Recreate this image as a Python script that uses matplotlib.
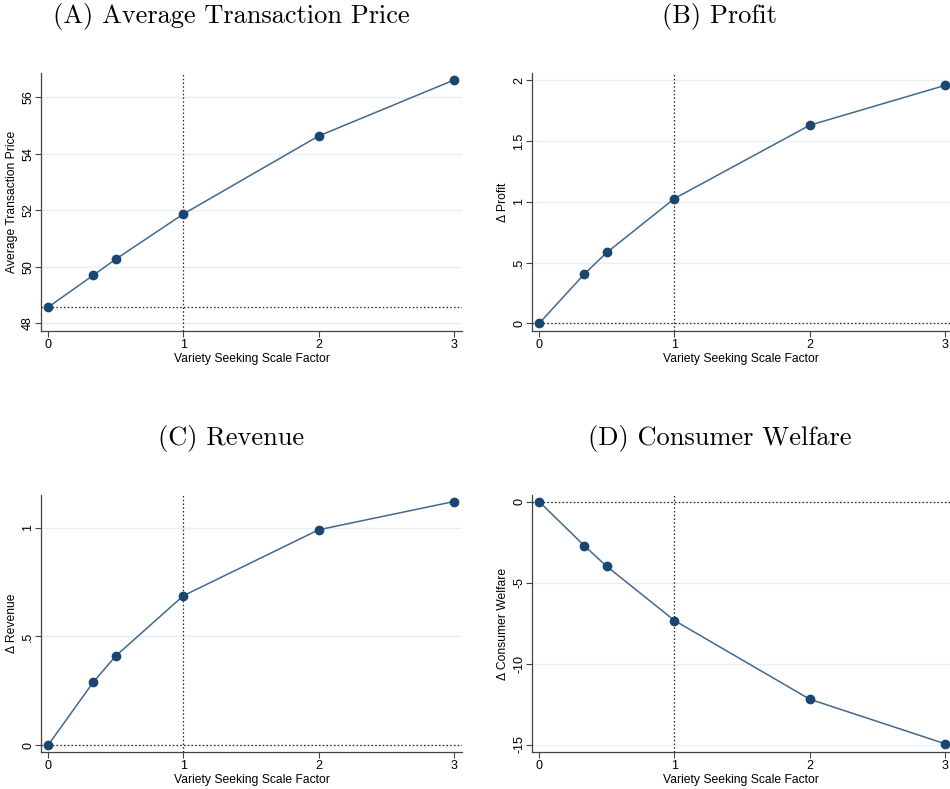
import matplotlib
matplotlib.use("Agg")
import matplotlib.pyplot as plt

plt.rcParams["font.family"] = ["Liberation Sans", "DejaVu Sans"]

# data
scale = [0, 1/3, 0.5, 1, 2, 3]
avg_price = [48.57, 49.70, 50.27, 51.87, 54.63, 56.61]
d_profit = [0.0, 0.405, 0.583, 1.027, 1.63, 1.958]
d_revenue = [0.0, 0.289, 0.41, 0.687, 0.99, 1.12]
d_welfare = [0.0, -2.72, -4.0, -7.34, -12.2, -14.95]

titles = ["(A) Average Transaction Price", "(B) Profit", "(C) Revenue", "(D) Consumer Welfare"]
ylabels = ["Average Transaction Price", "\u0394 Profit", "\u0394 Revenue", "\u0394 Consumer Welfare"]
yticks = [[48, 50, 52, 54, 56], [0, 0.5, 1, 1.5, 2], [0, 0.5, 1], [0, -5, -10, -15]]
yticklabels = [["48", "50", "52", "54", "56"], ["0", ".5", "1", "1.5", "2"],
               ["0", ".5", "1"], ["0", "-5", "-10", "-15"]]
xticks = [0, 1, 2, 3]

NAVY = "#1a476f"
LINE = "#40698f"
GRID = "#e8eff1"

W, H = 950, 789
fig = plt.figure(figsize=(W / 100, H / 100), dpi=100)

# axes boxes in pixels: left, right, top, bottom
boxes = [(41, 462, 73, 331), (532, 950, 73, 331),
         (41, 462, 495, 752), (532, 950, 495, 752)]
ylims = [(47.73, 56.86), (-0.063, 2.06), (-0.031, 1.15), (-15.46, 0.41)]
xlims = [(-0.052, 3.06), (-0.053, 3.037), (-0.052, 3.06), (-0.053, 3.037)]
title_x = [231, 720, 231, 720]
title_y = [17, 17, 438, 438]
series = [avg_price, d_profit, d_revenue, d_welfare]
baselines = [avg_price[0], 0, 0, 0]

for i in range(4):
    l, r, t, b = boxes[i]
    ax = fig.add_axes([l / W, 1 - b / H, (r - l) / W, (b - t) / H])
    ax.set_xlim(*xlims[i])
    ax.set_ylim(*ylims[i])
    ax.set_yticks(yticks[i])
    ax.set_yticklabels(yticklabels[i], rotation=90, va="center")
    ax.set_xticks(xticks)
    ax.set_xticklabels([str(v) for v in xticks])
    ax.grid(axis="y", color=GRID, linewidth=1.0)
    ax.set_axisbelow(True)
    for s in ["top", "right"]:
        ax.spines[s].set_visible(False)
    for s in ["left", "bottom"]:
        ax.spines[s].set_color("#444444")
        ax.spines[s].set_linewidth(0.9)
    ax.tick_params(length=4, width=0.8, color="#444444", labelsize=9, pad=2)
    ax.tick_params(axis="y", pad=1)

    ax.axvline(1, color="#222222", linestyle=(0, (1.2, 1.8)), linewidth=0.9)
    ax.axhline(baselines[i], color="#222222", linestyle=(0, (1.2, 1.8)), linewidth=0.9)
    ax.plot(scale, series[i], color=LINE, linewidth=1.1, zorder=3)
    ax.plot(scale, series[i], "o", color=NAVY, markersize=6, zorder=4, clip_on=False)

    ax.set_xlabel("Variety Seeking Scale Factor", fontsize=8.7, labelpad=1)
    ax.set_ylabel(ylabels[i], fontsize=8.7, labelpad=3)
    fig.text(title_x[i] / W, 1 - title_y[i] / H, titles[i], family="cmr10",
             fontsize=19, ha="center", va="center")

fig.savefig("out.png", dpi=100)
